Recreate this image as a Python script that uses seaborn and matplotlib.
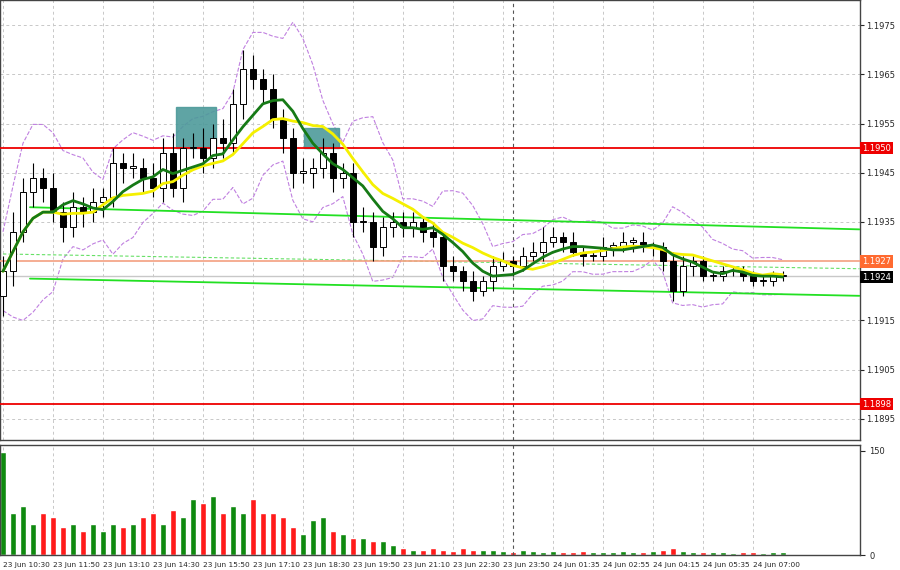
import numpy as np
import pandas as pd
import matplotlib
matplotlib.use("Agg")
import matplotlib.pyplot as plt
import seaborn as sns

# price data, one candle per ~16 min
closes = [1.1925, 1.1933, 1.1941, 1.1944, 1.1942, 1.1937, 1.1934, 1.1938, 1.1937, 1.1939,
          1.1940, 1.1947, 1.1946, 1.1946, 1.1944, 1.1942, 1.1949, 1.1942, 1.1950, 1.1950,
          1.1948, 1.1952, 1.1951, 1.1959, 1.1966, 1.1964, 1.1962, 1.1956, 1.1952, 1.1945,
          1.1945, 1.1946, 1.1949, 1.1944, 1.1945, 1.1935, 1.1935, 1.1930, 1.1934, 1.1935,
          1.1934, 1.1935, 1.1933, 1.1932, 1.1926, 1.1925, 1.1923, 1.1921, 1.1923, 1.1926,
          1.1927, 1.1926, 1.1928, 1.1929, 1.1931, 1.1932, 1.1931, 1.1929, 1.1928, 1.1928,
          1.1930, 1.1930, 1.1931, 1.1931, 1.1930, 1.1930, 1.1927, 1.1921, 1.1926, 1.1927,
          1.1924, 1.1924, 1.1925, 1.1925, 1.1924, 1.1923, 1.1923, 1.1924, 1.1924]
first_open = 1.1920
upper_wick = [3, 4, 3, 3, 2, 3, 2, 3, 2, 3, 2, 3, 2, 3, 2, 3, 3, 4, 2, 3,
              4, 3, 4, 3, 4, 3, 2, 3, 2, 2, 3, 2, 3, 2, 2, 2, 3, 2, 2, 2,
              2, 2, 1, 2, 1, 2, 1, 2, 1, 2, 2, 1, 2, 2, 3, 2, 1, 2, 1, 1,
              2, 1, 2, 1, 2, 1, 1, 2, 2, 1, 1, 1, 1, 1, 1, 1, 1, 1, 1]
lower_wick = [4, 3, 2, 3, 3, 2, 3, 2, 3, 2, 3, 2, 3, 2, 3, 2, 3, 2, 3, 2,
              3, 2, 3, 2, 3, 2, 3, 2, 3, 3, 2, 3, 2, 3, 2, 3, 2, 3, 2, 2,
              2, 2, 2, 2, 3, 2, 2, 2, 1, 2, 1, 2, 1, 1, 2, 1, 2, 1, 2, 1,
              1, 2, 1, 2, 1, 2, 2, 2, 1, 2, 1, 1, 1, 1, 1, 1, 1, 1, 1]
volume = [148, 60, 70, 45, 60, 55, 40, 45, 35, 45, 35, 45, 40, 45, 55, 60, 45, 65, 55, 80,
          75, 85, 60, 70, 60, 80, 60, 60, 55, 40, 30, 50, 55, 35, 30, 25, 25, 20, 20, 15,
          10, 8, 8, 10, 7, 6, 10, 8, 7, 8, 6, 5, 7, 6, 5, 6, 4, 5, 6, 5,
          4, 5, 6, 4, 5, 6, 8, 10, 6, 5, 4, 5, 4, 3, 5, 4, 3, 4, 5]
tick_labels = ["23 Jun 10:30", "23 Jun 11:50", "23 Jun 13:10", "23 Jun 14:30", "23 Jun 15:50",
               "23 Jun 17:10", "23 Jun 18:30", "23 Jun 19:50", "23 Jun 21:10", "23 Jun 22:30",
               "23 Jun 23:50", "24 Jun 01:35", "24 Jun 02:55", "24 Jun 04:15", "24 Jun 05:35",
               "24 Jun 07:00"]
price_ticks = [1.1975, 1.1965, 1.1955, 1.1945, 1.1935, 1.1915, 1.1905, 1.1895]
levels = {"1.1950": 1.1950, "1.1898": 1.1898}

pip = 0.0001
df = pd.DataFrame({"close": closes})
df["i"] = np.arange(len(df))
df["open"] = [first_open] + closes[:-1]
df["high"] = df[["open", "close"]].max(axis=1) + np.array(upper_wick) * pip
df["low"] = df[["open", "close"]].min(axis=1) - np.array(lower_wick) * pip
df["vol"] = volume
df["up"] = df["close"] >= df["open"]
df["ma_fast"] = df["close"].rolling(6, min_periods=1).mean()
df["ma_slow"] = df["close"].rolling(10, min_periods=1).mean()
std = df["close"].rolling(6, min_periods=1).std().fillna(0.0003)
df["env_hi"] = df["ma_fast"] + 2 * std + 0.0002
df["env_lo"] = df["ma_fast"] - 2 * std - 0.0002

sns.set_style("white")
fig = plt.figure(figsize=(9, 5.7), dpi=100)
ax = fig.add_axes([0.0, 0.228, 0.955, 0.772])
axv = fig.add_axes([0.0, 0.026, 0.955, 0.193], sharex=ax)

xlim = (-0.3, 85.7)
grid_kw = dict(color="#c8c8c8", ls=(0, (3, 3)), lw=0.7)
for t in price_ticks:
    ax.axhline(t, **grid_kw, zorder=0)
xt = np.arange(0, 80, 5)
for x in xt:
    ax.axvline(x, **grid_kw, zorder=0)
    axv.axvline(x, **grid_kw, zorder=0)
ax.axvline(51, color="#555555", ls=(0, (3, 3)), lw=0.8)
axv.axvline(51, color="#555555", ls=(0, (3, 3)), lw=0.8)

# signal boxes
ax.add_patch(plt.Rectangle((17.3, 1.1950), 4.0, 0.00083, color="#4d9a9a", alpha=0.9, zorder=3))
ax.add_patch(plt.Rectangle((30.1, 1.1950), 3.5, 0.00041, color="#4d9a9a", alpha=0.9, zorder=3))

# candles
for _, r in df.iterrows():
    ax.vlines(r["i"], r["low"], r["high"], color="black", lw=0.8, zorder=4)
    body_lo = min(r["open"], r["close"])
    h = max(abs(r["close"] - r["open"]), 0.00003)
    ax.add_patch(plt.Rectangle((r["i"] - 0.3, body_lo), 0.6, h,
                               facecolor="white" if r["up"] else "black",
                               edgecolor="black", lw=0.7, zorder=5))

sns.lineplot(data=df, x="i", y="env_hi", ax=ax, color="#c080e0", lw=0.8, ls="--", zorder=2)
sns.lineplot(data=df, x="i", y="env_lo", ax=ax, color="#c080e0", lw=0.8, ls="--", zorder=2)
sns.lineplot(data=df, x="i", y="ma_slow", ax=ax, color="#f5f000", lw=2, zorder=6)
sns.lineplot(data=df, x="i", y="ma_fast", ax=ax, color="#167a16", lw=2, zorder=7)

# support / resistance
ax.plot([2.7, 85.7], [1.1938, 1.19335], color="#22e022", lw=1.3, zorder=3)
ax.plot([2.7, 85.7], [1.19235, 1.1920], color="#22e022", lw=1.3, zorder=3)
ax.plot([0, 85.7], [1.19285, 1.19255], color="#66e066", lw=0.8, ls=(0, (3, 2)), zorder=3)
ax.axhline(1.1927, color="#f4a080", lw=1.2, zorder=3)
ax.axhline(1.1924, color="#c8c8c8", lw=1.0, zorder=3)
for lab, v in levels.items():
    ax.axhline(v, color="#ee0000", lw=1.3, zorder=3)
    ax.text(1.003, v, lab, transform=ax.get_yaxis_transform(), color="white", fontsize=6,
            va="center", ha="left", bbox=dict(fc="#ee0000", ec="none", pad=1.2))
ax.text(1.003, 1.1927, "1.1927", transform=ax.get_yaxis_transform(), color="white", fontsize=6,
        va="center", ha="left", bbox=dict(fc="#ff6a30", ec="none", pad=1.2))
ax.text(1.003, 1.19238, "1.1924", transform=ax.get_yaxis_transform(), color="white", fontsize=6,
        va="center", ha="left", bbox=dict(fc="black", ec="none", pad=1.2), zorder=10)

ax.set_xlim(*xlim)
ax.set_ylim(1.18907, 1.19801)
ax.yaxis.tick_right()
ax.set_yticks(price_ticks)
ax.set_yticklabels([f"{t:.4f}" for t in price_ticks], fontsize=6)
ax.tick_params(axis="y", length=3, pad=2)
ax.tick_params(axis="x", bottom=False, labelbottom=False)
ax.set_xlabel("")
ax.set_ylabel("")

colors = ["#0f8a0f" if u else "#ff1a1a" for u in df["up"]]
sns.barplot(x=df["i"], y=df["vol"], ax=axv, palette=colors, hue=df["i"], legend=False,
            native_scale=True, width=0.6, saturation=1)
axv.set_ylim(0, 158)
axv.yaxis.tick_right()
axv.set_yticks([0, 150])
axv.set_yticklabels(["0", "150"], fontsize=6)
axv.set_xticks(xt)
axv.set_xticklabels(tick_labels, fontsize=5.3, ha="left")
axv.tick_params(axis="x", length=3, pad=2)
axv.set_xlim(*xlim)
axv.set_xlabel("")
axv.set_ylabel("")

for a in (ax, axv):
    for s in a.spines.values():
        s.set_color("#444444")
        s.set_linewidth(1)

fig.savefig("out.png", dpi=100)
